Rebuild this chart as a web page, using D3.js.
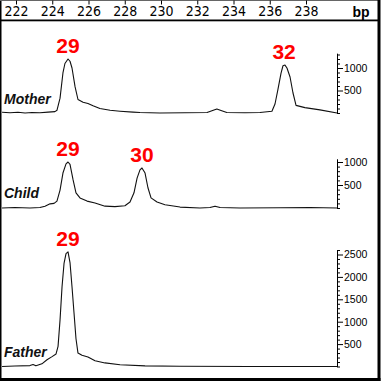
<!DOCTYPE html>
<html>
<head>
<meta charset="utf-8">
<script src="https://cdn.jsdelivr.net/npm/d3@7"></script>
<style>
  body { margin: 0; background: #fff; }
  svg { display: block; }
</style>
</head>
<body>
<script>
// fragment sizes (bp) on the top ruler
const bpTicks = [222, 224, 226, 228, 230, 232, 234, 236, 238]

// traces: [bp, RFU]
const motherTrace = [
  [221.23, 15], [221.67, 5], [222.11, 15], [222.50, 0], [222.88, 10], [223.32, 5],
  [223.77, 20], [224.15, 30], [224.26, 60], [224.43, 330], [224.59, 890], [224.70, 1100],
  [224.87, 1200], [224.98, 1150], [225.09, 1000], [225.26, 580], [225.42, 300], [225.70, 240],
  [225.97, 210], [226.25, 160], [226.63, 100], [227.19, 60], [227.74, 40], [228.46, 20],
  [228.84, 10], [229.94, 0], [231.32, 5], [232.54, 10], [232.81, 50], [233.08, 90],
  [233.35, 50], [233.63, 10], [234.63, 5], [235.46, 10], [236.12, 40], [236.29, 200],
  [236.45, 520], [236.62, 880], [236.73, 1050], [236.84, 1065], [236.95, 1000], [237.12, 800],
  [237.28, 450], [237.45, 170], [237.94, 120], [238.77, 70], [239.71, 0]
]
const childTrace = [
  [221.23, 0], [221.94, 10], [222.77, 0], [223.32, 10], [223.60, 40], [223.88, 90],
  [224.10, 100], [224.26, 150], [224.43, 390], [224.59, 760], [224.76, 960], [224.87, 1000],
  [224.98, 950], [225.15, 610], [225.31, 330], [225.53, 220], [225.92, 150], [226.36, 110],
  [226.91, 40], [227.46, 30], [228.01, 50], [228.29, 130], [228.51, 330], [228.68, 650],
  [228.84, 830], [228.95, 870], [229.12, 760], [229.28, 440], [229.45, 220], [229.78, 130],
  [230.22, 70], [231.05, 20], [232.15, 0], [232.70, 10], [232.98, 40], [233.26, 10],
  [234.36, 0], [236.57, 5], [238.22, 10], [239.71, 0]
]
const fatherTrace = [
  [221.23, 0], [221.94, 10], [222.77, 20], [222.94, 45], [223.10, 15], [223.43, 60],
  [223.71, 150], [223.99, 220], [224.21, 280], [224.32, 450], [224.43, 1040], [224.54, 1780],
  [224.65, 2300], [224.76, 2520], [224.87, 2560], [224.98, 2320], [225.09, 1780], [225.20, 1200],
  [225.31, 620], [225.42, 300], [225.64, 250], [225.97, 210], [226.36, 130], [226.91, 80],
  [227.74, 40], [229.12, 15], [231.05, 5], [234.91, 0], [239.71, 0]
]

// allele calls: [bp, label]
const motherCalls = [[224.87, '29'], [236.79, '32']]
const childCalls = [[224.87, '29'], [228.95, '30']]
const fatherCalls = [[224.87, '29']]

const width = 381, height = 383

const svg = d3.select('body').append('svg')
  .attr('width', width)
  .attr('height', height)

const x = d3.scaleLinear()
  .domain([222, 238])
  .range([16, 306])

// frame
svg.append('rect').attr('x', 0).attr('y', 0).attr('width', 1.5).attr('height', 381).attr('fill', '#000')
svg.append('rect').attr('x', 0).attr('y', 0).attr('width', 380).attr('height', 1).attr('fill', '#666')
svg.append('rect').attr('x', 0).attr('y', 19.5).attr('width', 380).attr('height', 1.8).attr('fill', '#000')
svg.append('rect').attr('x', 377.5).attr('y', 0).attr('width', 3).attr('height', 381).attr('fill', '#000')
svg.append('rect').attr('x', 0).attr('y', 378).attr('width', 380.5).attr('height', 3).attr('fill', '#000')

// top bp ruler
const topAxis = svg.append('g')
  .attr('transform', 'translate(0, 0.5)')
  .call(d3.axisBottom(x).tickValues(bpTicks).tickSize(4).tickPadding(2).tickFormat(d3.format('d')))
topAxis.select('.domain').remove()
topAxis.selectAll('line').attr('stroke', '#000')
topAxis.selectAll('text')
  .attr('fill', '#000')
  .style('font-family', '"Liberation Sans Narrow", "DejaVu Sans Condensed", "Liberation Sans", sans-serif')
  .style('font-size', '14px')

svg.append('text')
  .attr('x', 361)
  .attr('y', 17)
  .attr('text-anchor', 'middle')
  .style('font-family', '"Liberation Sans", Arial, sans-serif')
  .style('font-weight', 'bold')
  .style('font-size', '14px')
  .text('bp')

const panels = [
  {name: 'Mother', trace: motherTrace, calls: motherCalls, zero: 113, per1000: 45, top: 1330, nameY: 104},
  {name: 'Child', trace: childTrace, calls: childCalls, zero: 208, per1000: 46, top: 1070, nameY: 198},
  {name: 'Father', trace: fatherTrace, calls: fatherCalls, zero: 366.5, per1000: 44.8, top: 2610, nameY: 357}
]

const axisX = 337

const line = d3.line()
  .x(d => x(d[0]))

panels.forEach(p => {
  const y = d3.scaleLinear()
    .domain([0, p.top])
    .range([p.zero, p.zero - p.top / 1000 * p.per1000])

  svg.append('path')
    .datum(p.trace)
    .attr('fill', 'none')
    .attr('stroke', '#111')
    .attr('stroke-width', 1.1)
    .attr('stroke-linejoin', 'round')
    .attr('d', line.y(d => y(d[1])))

  const ax = svg.append('g')
    .attr('transform', `translate(${axisX}, 0)`)
    .call(d3.axisRight(y)
      .tickValues(d3.range(0, p.top, 100))
      .tickSize(3)
      .tickSizeOuter(0)
      .tickPadding(4)
      .tickFormat(d => d > 0 && d % 500 === 0 ? d : ''))
  ax.select('.domain').attr('stroke', '#000')
  ax.selectAll('line').attr('stroke', '#000')
    .attr('x2', d => d > 0 && d % 500 === 0 ? 6 : 3)
  ax.selectAll('text')
    .attr('fill', '#000')
    .style('font-family', '"Liberation Sans", Arial, sans-serif')
    .style('font-size', '10.5px')

  svg.append('text')
    .attr('x', 4)
    .attr('y', p.nameY)
    .style('font-family', '"Liberation Sans", Arial, sans-serif')
    .style('font-weight', 'bold')
    .style('font-style', 'italic')
    .style('font-size', '14px')
    .attr('fill', '#111')
    .text(p.name)

  // allele numbers sit over their peaks
  svg.selectAll(null)
    .data(p.calls)
    .enter()
    .append('text')
    .attr('x', d => x(d[0]))
    .attr('y', d => {
      const peak = d3.least(p.trace, t => Math.abs(t[0] - d[0]))
      return y(peak[1]) - 6
    })
    .attr('text-anchor', 'middle')
    .style('font-family', '"Liberation Sans", Arial, sans-serif')
    .style('font-weight', 'bold')
    .style('font-size', '21px')
    .attr('fill', '#f00')
    .text(d => d[1])
})
</script>
</body>
</html>
